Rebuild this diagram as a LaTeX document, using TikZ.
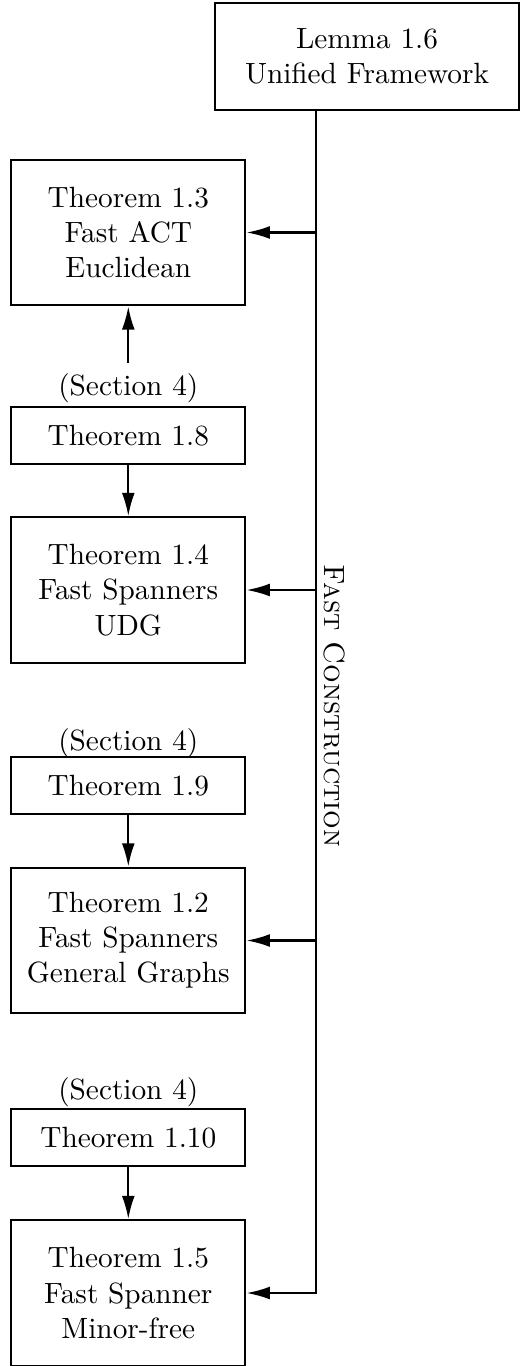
\documentclass[tikz,border=0pt]{standalone}
\usetikzlibrary{arrows.meta}
\begin{document}
\begin{tikzpicture}[x=0.3413pt,y=-0.3413pt,
  box/.style={draw,line width=0.75pt,align=center,inner sep=0pt,minimum width=79.9pt},
  tall/.style={box,minimum height=49.6pt},
  short/.style={box,minimum height=19.5pt},
  lab/.style={align=center},
  arr/.style={line width=0.75pt,-{Latex[length=8pt,width=4.4pt]}},
  ln/.style={line width=0.75pt}]
\useasboundingbox (0,0) rectangle (520,1366);
\node[box,minimum width=103.8pt,minimum height=36.5pt] (lemma) at (367,56.5) {Lemma 1.6\\Unified Framework};
\node[tall] (t13) at (128.3,232.5) {Theorem 1.3\\Fast ACT\\Euclidean};
\node[lab] (s1) at (128.3,388) {(Section 4)};
\node[short] (t18) at (128.3,435.5) {Theorem 1.8};
\node[tall] (t14) at (128.3,590) {Theorem 1.4\\Fast Spanners\\UDG};
\node[lab] (s2) at (128.3,743) {(Section 4)};
\node[short] (t19) at (128.3,785.5) {Theorem 1.9};
\node[tall] (t12) at (128.3,940.5) {Theorem 1.2\\Fast Spanners\\General Graphs};
\node[lab] (s3) at (128.3,1092) {(Section 4)};
\node[short] (t110) at (128.3,1137.5) {Theorem 1.10};
\node[tall] (t15) at (128.3,1293) {Theorem 1.5\\Fast Spanner\\Minor-free};
\coordinate (v) at (316,0);
\draw[arr] (lemma.south -| v) -- (t15.east -| v) -- (t15.east);
\draw[arr] (t13.east -| v) -- (t13.east);
\draw[arr] (t14.east -| v) -- (t14.east);
\draw[arr] (t12.east -| v) -- (t12.east);
\draw[arr] (s1.north) -- (t13.south);
\draw[arr] (t18.south) -- (t14.north);
\draw[arr] (t19.south) -- (t12.north);
\draw[arr] (t110.south) -- (t15.north);
\node[rotate=-90] (fc) at (334,706) {\textsc{Fast Construction}};
\end{tikzpicture}
\end{document}
